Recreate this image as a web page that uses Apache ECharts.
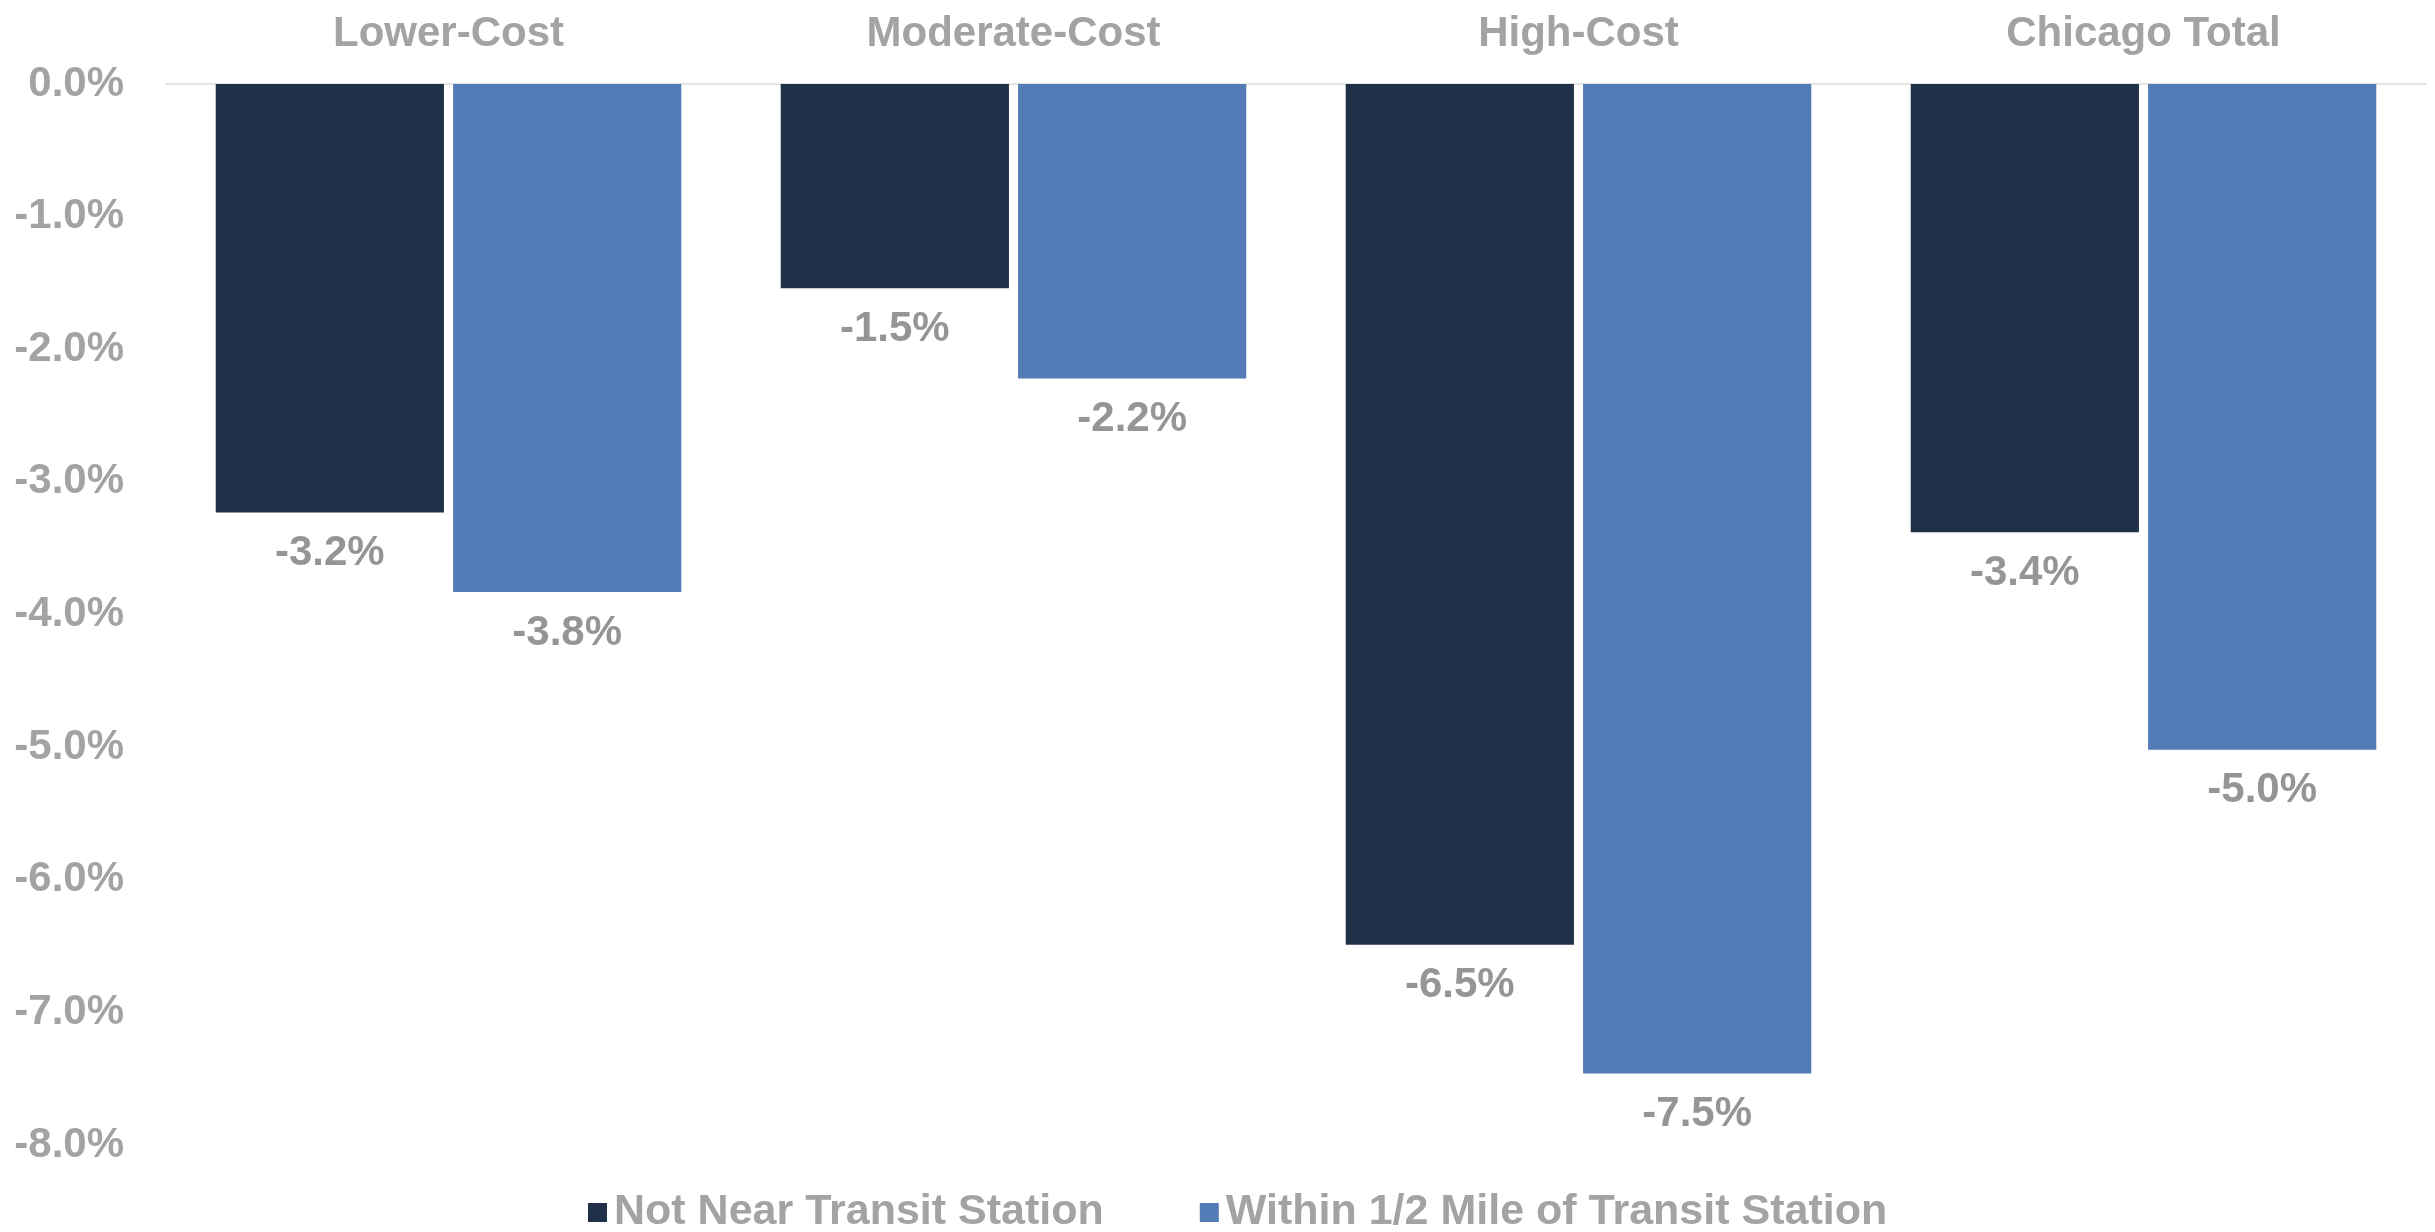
<!DOCTYPE html>
<html>
<head>
<meta charset="utf-8">
<script src="https://cdn.jsdelivr.net/npm/echarts@6/dist/echarts.min.js"></script>
<style>
  html, body { margin: 0; padding: 0; background: #ffffff; }
  #chart { width: 2435px; height: 1232px; }
</style>
</head>
<body>
<div id="chart"></div>
<script>
// Change in value by housing cost tier, split by distance to transit
const categories = ['Lower-Cost', 'Moderate-Cost', 'High-Cost', 'Chicago Total'];
const seriesNames = ['Not Near Transit Station', 'Within 1/2 Mile of Transit Station'];
const notNearTransit = [-3.23, -1.54, -6.49, -3.38];
const nearTransit = [-3.83, -2.22, -7.46, -5.02];
const yMin = -8;
const yMax = 0;
const yStep = 1;

const FONT = '"Liberation Sans", Arial, sans-serif';
const GREY = '#a3a3a3';
const LABEL_GREY = '#959595';

const chart = echarts.init(document.getElementById('chart'));

const pct = v => v.toFixed(1) + '%';

function barSeries(name, data, color) {
  return {
    name: name,
    type: 'bar',
    data: data,
    barGap: '4%',
    barCategoryGap: '17.6%',
    itemStyle: { color: color },
    label: {
      show: true,
      position: 'bottom',
      distance: 20,
      formatter: p => pct(p.value),
      fontFamily: FONT,
      fontWeight: 'bold',
      fontSize: 42,
      color: LABEL_GREY
    }
  };
}

chart.setOption({
  animation: false,
  backgroundColor: '#ffffff',
  grid: { left: 166, right: 9, top: 84, bottom: 87, containLabel: false },
  legend: {
    data: seriesNames,
    left: 583,
    top: 1186,
    itemWidth: 19,
    itemHeight: 19,
    itemGap: 96,
    icon: 'rect',
    textStyle: {
      fontFamily: FONT,
      fontWeight: 'bold',
      fontSize: 43,
      color: GREY,
      padding: [0, 0, 0, 2]
    }
  },
  xAxis: {
    type: 'category',
    data: categories,
    position: 'top',
    axisLine: { show: true, lineStyle: { color: '#e3e3e3', width: 2 } },
    axisTick: { show: false },
    axisLabel: {
      margin: 29,
      fontFamily: FONT,
      fontWeight: 'bold',
      fontSize: 42,
      color: GREY
    }
  },
  yAxis: {
    type: 'value',
    min: yMin,
    max: yMax,
    interval: yStep,
    axisLine: { show: false },
    axisTick: { show: false },
    splitLine: { show: false },
    axisLabel: {
      margin: 42,
      padding: [8, 0, 0, 0],
      formatter: v => pct(v),
      fontFamily: FONT,
      fontWeight: 'bold',
      fontSize: 42,
      color: GREY
    }
  },
  series: [
    barSeries(seriesNames[0], notNearTransit, '#203049'),
    barSeries(seriesNames[1], nearTransit, '#537bb6')
  ]
});
</script>
</body>
</html>
